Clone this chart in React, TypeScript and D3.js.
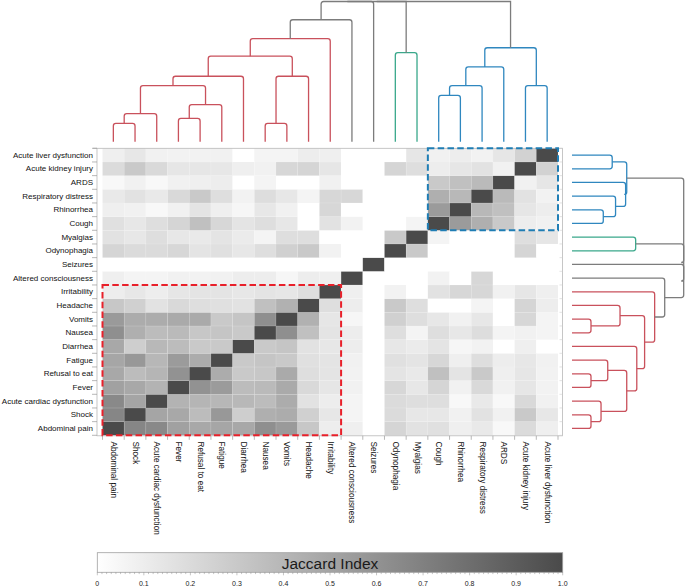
import React from "react"
import * as d3 from "d3"

// symptoms in leaf order (left -> right on x, bottom -> top on y)
const symptoms = [
  "Abdominal pain", "Shock", "Acute cardiac dysfunction", "Fever", "Refusal to eat",
  "Fatigue", "Diarrhea", "Nausea", "Vomits", "Headache", "Irritability",
  "Altered consciousness", "Seizures", "Odynophagia", "Myalgias", "Cough",
  "Rhinorrhea", "Respiratory distress", "ARDS", "Acute kidney injury", "Acute liver dysfunction",
]

// lower triangle of the Jaccard matrix: row i holds values for columns 0..i-1
const jaccardLower = [
  [],
  [0.67],
  [0.65, 0.50],
  [0.52, 0.48, 0.42],
  [0.48, 0.37, 0.41, 0.60],
  [0.49, 0.57, 0.40, 0.55, 0.46],
  [0.48, 0.27, 0.39, 0.37, 0.30, 0.30],
  [0.62, 0.44, 0.37, 0.38, 0.31, 0.32, 0.30],
  [0.56, 0.46, 0.46, 0.47, 0.47, 0.30, 0.32, 0.62],
  [0.31, 0.26, 0.16, 0.21, 0.18, 0.17, 0.16, 0.35, 0.43],
  [0.10, 0.13, 0.10, 0.14, 0.15, 0.15, 0.13, 0.15, 0.14, 0.18],
  [0.09, 0.06, 0.06, 0.08, 0.07, 0.08, 0.10, 0.10, 0.05, 0.10, 0.09],
  [0, 0, 0, 0, 0, 0, 0, 0, 0, 0, 0, 0],
  [0.23, 0.20, 0.20, 0.22, 0.15, 0.17, 0.13, 0.18, 0.26, 0.30, 0.07, 0, 0],
  [0.16, 0.13, 0.18, 0.13, 0.12, 0.15, 0.11, 0.06, 0.18, 0.18, 0, 0, 0, 0.30],
  [0.17, 0.13, 0.18, 0.23, 0.35, 0.22, 0.15, 0.18, 0.13, 0, 0.16, 0.07, 0, 0, 0.06],
  [0.09, 0.08, 0.04, 0.08, 0.15, 0.09, 0.05, 0.13, 0.08, 0, 0.22, 0, 0, 0, 0, 0.55],
  [0.12, 0.16, 0.12, 0.21, 0.30, 0.18, 0.07, 0.19, 0.13, 0.06, 0.22, 0.22, 0, 0, 0, 0.44, 0.39],
  [0.04, 0.08, 0.04, 0.08, 0.09, 0.10, 0, 0.06, 0, 0, 0.08, 0, 0, 0, 0, 0.30, 0.35, 0.38],
  [0.20, 0.30, 0.21, 0.14, 0.14, 0.13, 0.09, 0.08, 0.22, 0.23, 0.14, 0, 0, 0.23, 0.18, 0.10, 0.14, 0.16, 0.08],
  [0.09, 0.13, 0.08, 0.07, 0.07, 0.08, 0, 0.06, 0.06, 0.10, 0.09, 0, 0, 0, 0.14, 0.08, 0.10, 0.07, 0.14, 0.25],
]

// linkage: merge k creates node 21+k from two children
const merges = [
  [0, 1], [21, 2], [3, 4], [23, 5], [22, 24], [25, 6], [7, 8], [27, 9], [26, 28],
  [29, 10], [30, 11], [13, 14], [15, 16], [33, 17], [34, 18], [19, 20], [35, 36],
  [31, 12], [38, 32], [39, 37],
]
const topHeights = [0.13, 0.20, 0.166, 0.265, 0.40, 0.467, 0.13, 0.467, 0.61, 0.735, 0.87,
  0.635, 0.33, 0.40, 0.533, 0.40, 0.67, 1, 1, 1]
const rightHeights = [0.17, 0.26, 0.17, 0.32, 0.49, 0.58, 0.17, 0.43, 0.65, 0.74, 0.83,
  0.57, 0.28, 0.39, 0.48, 0.36, 0.49, 1, 1, 1]

// cluster colour of each leaf (null = no cluster)
const leafCluster = ["r", "r", "r", "r", "r", "r", "r", "r", "r", "r", "r", null, null,
  "g", "g", "b", "b", "b", "b", "b", "b"]
const clusterColors: any = { r: "#c9515c", g: "#3aa88b", b: "#2f87bf" }
const linkGray = "#7c7c7c"
const colorThreshold = 0.8

const legendTicks = [0, 0.1, 0.2, 0.3, 0.4, 0.5, 0.6, 0.7, 0.8, 0.9, 1.0]

const heat = { left: 102.5, right: 558, top: 148.3, bottom: 435.3 }
const font = "'Liberation Sans', Arial, Helvetica, sans-serif"

function buildMatrix() {
  const n = symptoms.length
  const m: number[][] = d3.range(n).map(() => d3.range(n).map(() => 0))
  for (let i = 0; i < n; i++) {
    m[i][i] = 1
    jaccardLower[i].forEach((v, j) => { m[i][j] = v; m[j][i] = v })
  }
  return m
}

function firstLeaf(node: number): number {
  return node < symptoms.length ? node : firstLeaf(merges[node - symptoms.length][0])
}

// draws a dendrogram; pos(leaf) gives leaf coordinate along the heatmap axis
function dendroPaths(heights: number[], leafPos: (i: number) => number,
                     hScale: d3.ScaleLinear<number, number>, vertical: boolean) {
  const n = symptoms.length
  const pos: number[] = d3.range(n).map(leafPos)
  const h: number[] = d3.range(n).map(() => 0)
  const r = 2.5
  const out: any[] = []
  merges.forEach(([a, b], k) => {
    const id = n + k
    pos[id] = (pos[a] + pos[b]) / 2
    h[id] = heights[k]
    const pa = pos[a], pb = pos[b]
    const ha = hScale(h[a]), hb = hScale(h[b]), hn = hScale(h[id])
    const p = d3.path()
    if (vertical) {
      const s = Math.sign(ha - hn)
      p.moveTo(pa, ha)
      p.lineTo(pa, hn + r * s)
      p.quadraticCurveTo(pa, hn, pa + r, hn)
      p.lineTo(pb - r, hn)
      p.quadraticCurveTo(pb, hn, pb, hn + r * s)
      p.lineTo(pb, hb)
    } else {
      p.moveTo(ha, pa)
      p.lineTo(hn - r, pa)
      p.quadraticCurveTo(hn, pa, hn, pa + (pb > pa ? r : -r))
      p.lineTo(hn, pb - (pb > pa ? r : -r))
      p.quadraticCurveTo(hn, pb, hn - r, pb)
      p.lineTo(hb, pb)
    }
    const cl = leafCluster[firstLeaf(id)]
    const color = heights[k] < colorThreshold && cl ? clusterColors[cl] : linkGray
    out.push(<path key={k} d={p.toString()} fill="none" stroke={color} strokeWidth={1.3} />)
  })
  return out
}

export default function App() {
  const matrix = buildMatrix()

  const x = d3.scaleBand<string>().domain(symptoms).range([heat.left, heat.right])
  const y = d3.scaleBand<string>().domain(symptoms).range([heat.bottom, heat.top])
  const color = d3.scaleLinear<string>().domain([0, 1]).range(["#ffffff", "#4a4a4a"])

  const topScale = d3.scaleLinear().domain([0, 1]).range([141.7, 1.5])
  const rightScale = d3.scaleLinear().domain([0, 1]).range([572, 683.7])

  const legend = { left: 97.3, right: 562.7, top: 552.7, bottom: 572.3 }
  const lx = d3.scaleLinear().domain([0, 1]).range([legend.left, legend.right])

  const cells: any[] = []
  symptoms.forEach((rowName, i) => {
    symptoms.forEach((colName, j) => {
      cells.push(
        <rect key={i + "-" + j} x={x(colName)} y={y(rowName)} width={x.bandwidth()}
          height={y.bandwidth()} fill={color(matrix[i][j])}
          stroke="#ffffff" strokeOpacity={0.18} strokeWidth={0.6} />
      )
    })
  })

  const bw = x.bandwidth(), bh = y.bandwidth()

  return (
    <div style={{ position: "absolute", left: 0, top: 0 }}>
      <svg width={685} height={587} style={{ display: "block", background: "#fff" }}>
        <defs>
          <linearGradient id="jaccardGrad" x1="0" x2="1" y1="0" y2="0">
            <stop offset="0%" stopColor={color(0)} />
            <stop offset="100%" stopColor={color(1)} />
          </linearGradient>
        </defs>

        {/* dendrograms */}
        <g>{dendroPaths(topHeights, i => (x(symptoms[i]) as number) + bw / 2, topScale, true)}</g>
        <g>{dendroPaths(rightHeights, i => (y(symptoms[i]) as number) + bh / 2, rightScale, false)}</g>

        {/* heatmap */}
        <g>{cells}</g>
        <rect x={97} y={heat.top} width={562.5 - 97} height={heat.bottom - heat.top + 0.5}
          fill="none" stroke="#b8b8b8" strokeWidth={0.8} />
        <line x1={93} x2={97} y1={heat.top} y2={heat.top} stroke="#b8b8b8" strokeWidth={0.8} />

        {/* axis ticks at cell boundaries */}
        {d3.range(symptoms.length + 1).map(i => {
          const yy = heat.top + i * bh
          return <g key={"yt" + i}>
            <line x1={92} x2={97} y1={yy} y2={yy} stroke="#9a9a9a" strokeWidth={0.7} />
            <line x1={559.5} x2={562.5} y1={yy} y2={yy} stroke="#d0d0d0" strokeWidth={0.6} />
          </g>
        })}
        {d3.range(symptoms.length + 1).map(i => {
          const xx = heat.left + i * bw
          return <line key={"xt" + i} x1={xx} x2={xx} y1={heat.bottom + 0.5} y2={heat.bottom + 4.5}
            stroke="#9a9a9a" strokeWidth={0.7} />
        })}

        {/* labels */}
        {symptoms.map(s => (
          <text key={"yl" + s} x={93} y={(y(s) as number) + bh / 2} textAnchor="end"
            dominantBaseline="central" fontFamily={font} fontSize={8} fill="#111">{s}</text>
        ))}
        {symptoms.map(s => {
          const xx = (x(s) as number) + bw / 2
          const yy = 441.5
          return <text key={"xl" + s} x={xx} y={yy} transform={`rotate(90,${xx},${yy})`}
            dominantBaseline="central" fontFamily={font} fontSize={8.2} fill="#111">{s}</text>
        })}

        {/* highlighted clusters */}
        <rect x={x(symptoms[0])} y={y(symptoms[10])}
          width={11 * bw} height={11 * bh} fill="none" stroke="#e8202a" strokeWidth={2}
          strokeDasharray="6.5,3.3" />
        <rect x={x(symptoms[15])} y={y(symptoms[20])}
          width={6 * bw} height={6 * bh} fill="none" stroke="#1f7db4" strokeWidth={2}
          strokeDasharray="6.5,3.3" />

        {/* colour bar */}
        <rect x={legend.left} y={legend.top} width={legend.right - legend.left}
          height={legend.bottom - legend.top} fill="url(#jaccardGrad)" stroke="#a0a0a0" strokeWidth={0.8} />
        <text x={(legend.left + legend.right) / 2} y={(legend.top + legend.bottom) / 2 + 0.5}
          textAnchor="middle" dominantBaseline="central" fontFamily={font} fontSize={15.5}
          fill="#1a1a1a">Jaccard Index</text>
        {d3.range(0, 101).map(i => (
          <line key={"mt" + i} x1={lx(i / 100)} x2={lx(i / 100)} y1={legend.bottom}
            y2={legend.bottom + (i % 10 === 0 ? 3 : 1.8)} stroke="#8a8a8a" strokeWidth={0.5} />
        ))}
        {legendTicks.map(t => (
          <text key={"lt" + t} x={lx(t)} y={583} textAnchor="middle" dominantBaseline="central"
            fontFamily={font} fontSize={7} fill="#222">
            {t === 0 ? "0" : t.toFixed(1)}
          </text>
        ))}
      </svg>
    </div>
  )
}
